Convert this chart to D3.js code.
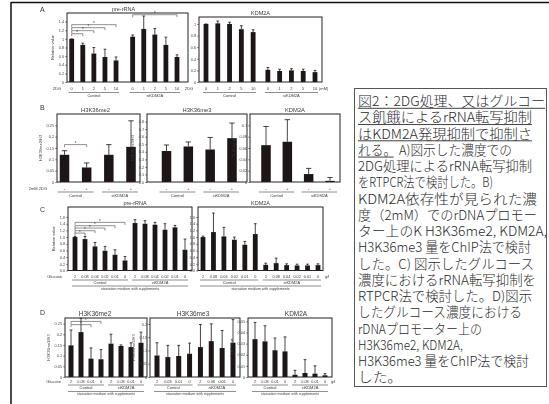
<!DOCTYPE html>
<html><head><meta charset="utf-8">
<script src="https://cdn.jsdelivr.net/npm/d3@7"></script>
<style>
body{margin:0;background:#fff;}
svg{display:block;}
</style></head><body>
<svg id="fig" width="549" height="404"></svg>
<script>
// ---- data ----
const groupNames = ["Control", "siKDM2A"];
const doseLabels = ["0", "1", "2", "5", "10"];              // 2DG, mM
const treatLabels = ["-", "+"];                              // 2 mM 2DG
const glucoseC = ["2", "0.08", "0.04", "0.02", "0.01", "0"]; // g/l
const glucoseD = ["2", "0.08", "0.01", "0"];                 // g/l

// A: 2DG dose series (Control x5, siKDM2A x5)
const aPreRNA    = [1.00, 0.86, 0.66, 0.58, 0.50, 1.05, 1.23, 1.10, 0.86, 0.58];
const aPreRNAErr = [0.00, 0.04, 0.14, 0.18, 0.08, 0.04, 0.30, 0.14, 0.18, 0.05];
const aKDM2A     = [1.00, 1.01, 1.00, 0.91, 0.86, 0.21, 0.19, 0.20, 0.19, 0.17];
const aKDM2AErr  = [0.00, 0.04, 0.03, 0.06, 0.04, 0.04, 0.03, 0.03, 0.03, 0.03];

// B: ChIP at 2 mM 2DG (Control -/+, siKDM2A -/+)
const bH3K36me2    = [0.120, 0.064, 0.120, 0.155];
const bH3K36me2Err = [0.018, 0.020, 0.045, 0.115];
const bH3K36me3    = [0.41, 0.47, 0.43, 0.58];
const bH3K36me3Err = [0.08, 0.06, 0.16, 0.20];
const bKDM2A       = [0.065, 0.071, 0.014, 0.002];
const bKDM2AErr    = [0.033, 0.039, 0.010, 0.006];

// C: glucose series (Control x6, siKDM2A x6)
const cPreRNA    = [1.00, 0.94, 0.72, 0.59, 0.47, 0.30, 1.42, 1.40, 1.37, 1.22, 1.29, 0.62];
const cPreRNAErr = [0.02, 0.08, 0.12, 0.13, 0.15, 0.12, 0.10, 0.09, 0.07, 0.18, 0.06, 0.32];
const cKDM2A     = [1.00, 1.15, 1.02, 0.92, 0.77, 1.09, 0.17, 0.22, 0.16, 0.15, 0.15, 0.16];
const cKDM2AErr  = [0.03, 0.57, 0.27, 0.08, 0.10, 0.31, 0.05, 0.15, 0.04, 0.04, 0.04, 0.04];

// D: ChIP in glucose series (Control x4, siKDM2A x4)
const dH3K36me2    = [0.148, 0.210, 0.086, 0.083, 0.156, 0.145, 0.140, 0.160];
const dH3K36me2Err = [0.072, 0.064, 0.050, 0.045, 0.044, 0.005, 0.020, 0.050];
const dH3K36me3    = [0.081, 0.075, 0.079, 0.0875, 0.1125, 0.135, 0.109, 0.129];
const dH3K36me3Err = [0.048, 0.044, 0.040, 0.040, 0.085, 0.065, 0.066, 0.087];
const dKDM2A       = [0.034, 0.032, 0.024, 0.023, 0.002, 0.0036, 0.003, 0.0015];
const dKDM2AErr    = [0.015, 0.014, 0.011, 0.013, 0.004, 0.012, 0.007, 0.0015];

// significance brackets: [from bar, to bar, height in data units]
const aPreBrackets = [[0, 1, 1.12], [0, 2, 1.19], [0, 3, 1.26], [0, 4, 1.33], [5, 9, 1.56]];
const bMe2Brackets = [[0, 1, 0.165]];
const cPreBrackets = [[0, 1, 1.12], [0, 2, 1.19], [0, 3, 1.27], [0, 4, 1.34], [0, 5, 1.44]];
const dMe2Brackets = [[0, 2, 0.245], [0, 3, 0.26]];

// caption lines: [text, line width, underlined prefix length in characters]
const captionLines = [
  ["図2：2DG処理、又はグルコー", 187, 99],
  ["ス飢餓によるrRNA転写抑制", 174, 99],
  ["はKDM2A発現抑制で抑制さ", 174, 99],
  ["れる。 A)図示した濃度での", 154, 3],
  ["2DG処理によるrRNA転写抑制", 174, 0],
  ["をRTPCR法で検討した。B)", 135, 0],
  ["KDM2A依存性が見られた濃", 179, 0],
  ["度（2mM）でのrDNAプロモー", 179, 0],
  ["ター上のK H3K36me2, KDM2A,", 189, 0],
  ["H3K36me3 量をChIP法で検討", 173, 0],
  ["した。C) 図示したグルコース", 176, 0],
  ["濃度におけるrRNA転写抑制を", 178, 0],
  ["RTPCR法で検討した。D)図示", 174, 0],
  ["したグルコース濃度における", 164, 0],
  ["rDNAプロモーター上の", 124, 0],
  ["H3K36me2, KDM2A,", 105, 0],
  ["H3K36me3 量をChIP法で検討", 171, 0],
  ["した。", 44, 0]
];

// ---- drawing ----
const FONT = "'Liberation Sans', Arial, sans-serif";
const BAR = "#1c1515";
const svg = d3.select("#fig");
svg.append("rect").attr("width", 549).attr("height", 404).attr("fill", "#fff");

const defs = svg.append("defs");
defs.append("filter").attr("id", "soft").attr("x", "-5%").attr("y", "-5%").attr("width", "110%").attr("height", "110%")
  .append("feGaussianBlur").attr("stdDeviation", 0.35);

// outer frame edges
svg.append("path").attr("d", "M11,2.5H549M11,2V404").attr("stroke", "#111").attr("stroke-width", 1.5).attr("fill", "none");

const charts = svg.append("g").attr("filter", "url(#soft)");

function small(g, x, y, s, size, anchor) {
  return g.append("text").attr("x", x).attr("y", y).text(s)
    .attr("font-family", FONT).attr("font-size", size || 4.5)
    .attr("fill", "#3a3a3a").attr("text-anchor", anchor || "middle");
}

function panel(cfg) {
  const g = charts.append("g");
  const n = cfg.values.length, half = n / 2, gap = cfg.gap || 0;
  const slot = i => i + (i >= half ? gap : 0);
  const xs = d3.scaleLinear().domain([0, n - 1 + gap]).range([cfg.x0 + cfg.padL, cfg.x1 - cfg.padR]);
  const ys = d3.scaleLinear().domain([0, cfg.yMax]).range([cfg.y1, cfg.y0]);
  const cx = i => xs(slot(i));

  // title
  small(g, (cfg.x0 + cfg.x1) / 2 + (cfg.titleDx || 0), cfg.y0 - 2, cfg.title, cfg.titleSize || 5.5);

  // y axis
  const ax = g.append("g").attr("transform", `translate(${cfg.x0},0)`)
    .call(d3.axisLeft(ys).tickValues(cfg.ticks).tickSize(1.8).tickFormat(cfg.fmt));
  ax.select(".domain").remove();
  ax.selectAll("line").attr("stroke", "#333").attr("stroke-width", 0.6);
  ax.selectAll("text").attr("font-size", 3.8).attr("font-family", FONT).attr("fill", "#444").attr("x", -3);
  small(g, 0, 0, cfg.yLabel, 4).attr("transform", `translate(${cfg.x0 - cfg.yLabelDx},${(cfg.y0 + cfg.y1) / 2}) rotate(-90)`);

  // bars
  g.selectAll(".bar").data(cfg.values).join("rect")
    .attr("x", (v, i) => cx(i) - cfg.bw / 2).attr("width", cfg.bw)
    .attr("y", v => ys(v)).attr("height", v => cfg.y1 - ys(v)).attr("fill", BAR);

  // error bars (upper whisker with cap)
  g.selectAll(".err").data(cfg.values).join("path")
    .attr("d", (v, i) => {
      const yt = ys(v + cfg.errs[i]), c = cx(i), w = Math.max(1.2, cfg.bw * 0.28);
      return `M${c},${ys(v)}V${yt}M${c - w},${yt}H${c + w}`;
    })
    .attr("stroke", BAR).attr("stroke-width", 0.8).attr("fill", "none");

  // frame
  g.append("rect").attr("x", cfg.x0).attr("y", cfg.y0)
    .attr("width", cfg.x1 - cfg.x0).attr("height", cfg.y1 - cfg.y0)
    .attr("fill", "none").attr("stroke", "#222").attr("stroke-width", 1);

  // brackets
  (cfg.brackets || []).forEach(([a, b, v]) => {
    const y = ys(v);
    g.append("path").attr("d", `M${cx(a)},${y + 2.5}V${y}H${cx(b)}V${y + 2.5}`)
      .attr("stroke", "#444").attr("stroke-width", 0.6).attr("fill", "none");
    small(g, (cx(a) + cx(b)) / 2, y + 0.6, "*", 4.5);
  });

  // category labels
  const labs = cfg.labels.concat(cfg.labels);
  labs.forEach((s, i) => small(g, cx(i), cfg.y1 + cfg.labDy, s, cfg.labSize || 4));
  if (cfg.prefix) small(g, cfg.x0 - cfg.prefixDx, cfg.y1 + cfg.labDy, cfg.prefix, 4, "end");
  if (cfg.unit) small(g, cx(n - 1) + cfg.unitDx, cfg.y1 + cfg.labDy, cfg.unit, 4, "start");

  // group underlines and names
  [[0, half - 1], [half, n - 1]].forEach(([a, b], k) => {
    const ext = cfg.lineExt;
    g.append("path").attr("d", `M${cx(a) - ext},${cfg.y1 + cfg.lineDy}H${cx(b) + ext}`)
      .attr("stroke", "#444").attr("stroke-width", 0.6);
    small(g, (cx(a) + cx(b)) / 2, cfg.y1 + cfg.grpDy, groupNames[k], 4);
  });
  if (cfg.longDy) {
    g.append("path").attr("d", `M${cx(0) - cfg.lineExt},${cfg.y1 + cfg.longDy}H${cx(n - 1) + cfg.lineExt}`)
      .attr("stroke", "#444").attr("stroke-width", 0.6);
    small(g, (cx(0) + cx(n - 1)) / 2, cfg.y1 + cfg.longDy + 3.6, "starvation medium with supplements", 3.6);
  }
}

const f1 = d3.format(".1f"), fg = d3.format("");

// row A
const rowA = {y0: 13, y1: 82, labDy: 8, lineDy: 10.5, grpDy: 15, bw: 4.8, lineExt: 3, prefix: "2DG", prefixDx: 6};
panel({...rowA, x0: 67, x1: 188, padL: 4.7, padR: 11, gap: 0.5, yMax: 1.6, ticks: d3.range(0, 1.41, 0.2), fmt: fg,
  title: "pre-rRNA", titleDx: -4, yLabel: "Relative value", yLabelDx: 13, values: aPreRNA, errs: aPreRNAErr, labels: doseLabels,
  brackets: aPreBrackets});
panel({...rowA, y0: 17, x0: 199, x1: 322, padL: 7, padR: 7, gap: 0.25, yMax: 1.12, ticks: d3.range(0, 1.01, 0.2), fmt: fg,
  title: "KDM2A", yLabel: "", yLabelDx: 13, values: aKDM2A, errs: aKDM2AErr, labels: doseLabels, unit: "(mM)", unitDx: 4});

// row B
const rowB = {y0: 114, y1: 182, labDy: 7.5, lineDy: 10, grpDy: 14.5, bw: 9.5, lineExt: 7, prefix: "2mM 2DG", prefixDx: 10, titleSize: 5.8};
panel({...rowB, x0: 57, x1: 140, padL: 7.5, padR: 9, yMax: 0.3, ticks: d3.range(0, 0.251, 0.05), fmt: d3.format(".2~f"),
  title: "H3K36me2", titleDx: -3, yLabel: "H3K36me2/H3", yLabelDx: 15, values: bH3K36me2, errs: bH3K36me2Err, labels: treatLabels,
  brackets: bMe2Brackets});
panel({...rowB, prefix: null, x0: 147, x1: 247, padL: 19.5, padR: 15, yMax: 0.9, ticks: d3.range(0, 0.81, 0.1), fmt: f1,
  title: "H3K36me3", yLabel: "H3K36me3/H3", yLabelDx: 13, values: bH3K36me3, errs: bH3K36me3Err, labels: treatLabels});
panel({...rowB, prefix: null, x0: 250, x1: 340, padL: 16, padR: 10, yMax: 0.12, ticks: d3.range(0, 0.101, 0.02), fmt: d3.format(".2~f"),
  title: "KDM2A", yLabel: "% of input", yLabelDx: 15, values: bKDM2A, errs: bKDM2AErr, labels: treatLabels});

// row C
const rowC = {y0: 207, y1: 270.5, labDy: 7, lineDy: 9.5, grpDy: 13.5, longDy: 15.5, bw: 4.8, lineExt: 3, prefix: "Glucose", prefixDx: 6, labSize: 3.8};
panel({...rowC, x0: 68, x1: 192, padL: 7, padR: 7, yMax: 1.9, ticks: d3.range(0, 1.61, 0.2), fmt: f1,
  title: "pre-rRNA", titleDx: 5, yLabel: "Relative value", yLabelDx: 13, values: cPreRNA, errs: cPreRNAErr, labels: glucoseC,
  brackets: cPreBrackets});
panel({...rowC, prefix: null, x0: 198, x1: 323, padL: 5, padR: 5, yMax: 1.9, ticks: d3.range(0, 1.61, 0.2), fmt: f1,
  title: "KDM2A", yLabel: "", yLabelDx: 13, values: cKDM2A, errs: cKDM2AErr, labels: glucoseC, unit: "g/l", unitDx: 7});

// row D
const rowD = {y0: 318, y1: 377, labDy: 5.5, lineDy: 8, grpDy: 12, longDy: 14.5, bw: 5, lineExt: 3, prefix: "Glucose", prefixDx: 4, titleSize: 6.5, labSize: 3.8};
panel({...rowD, x0: 65, x1: 147, padL: 6, padR: 6, yMax: 0.276, ticks: d3.range(0, 0.251, 0.05), fmt: d3.format(".2~f"),
  title: "H3K36me2", titleDx: -11, yLabel: "H3K36me2/H3", yLabelDx: 15, values: dH3K36me2, errs: dH3K36me2Err, labels: glucoseD,
  brackets: dMe2Brackets});
panel({...rowD, prefix: null, x0: 150, x1: 240, padL: 7, padR: 7, yMax: 0.222, ticks: d3.range(0, 0.201, 0.05), fmt: d3.format(".2~f"),
  title: "H3K36me3", titleDx: -2, yLabel: "H3K36me3/H3", yLabelDx: 15, values: dH3K36me3, errs: dH3K36me3Err, labels: glucoseD});
panel({...rowD, prefix: null, x0: 248, x1: 332, padL: 7, padR: 7, yMax: 0.053, ticks: d3.range(0, 0.0501, 0.01), fmt: d3.format(".2~f"),
  title: "KDM2A", titleDx: 6, yLabel: "% of input", yLabelDx: 15, values: dKDM2A, errs: dKDM2AErr, labels: glucoseD, unit: "g/l", unitDx: 6});

// panel letters
[["A", 12], ["B", 110], ["C", 212], ["D", 315]].forEach(([s, y]) =>
  charts.append("text").attr("x", 40).attr("y", y).text(s).attr("font-family", FONT)
    .attr("font-size", 7).attr("fill", "#333"));

// caption box
svg.append("rect").attr("x", 354.5).attr("y", 88.5).attr("width", 192).attr("height", 298)
  .attr("fill", "#fff").attr("stroke", "#555").attr("stroke-width", 1);
const cap = svg.append("g").attr("font-family", "'Noto Sans CJK JP', sans-serif")
  .attr("font-size", 13.2).attr("font-weight", 300).attr("fill", "#2a2a2a");
captionLines.forEach(([s, w, u], i) => {
  const base = 106 + i * 16.25;
  cap.append("text").attr("x", 358).attr("y", base).text(s)
    .attr("textLength", w).attr("lengthAdjust", "spacingAndGlyphs");
  if (u > 0) {
    const ul = u >= s.length ? w : w * (u / s.length) * 1.08;
    cap.append("path").attr("d", `M358,${base + 2.3}H${358 + ul}`)
      .attr("stroke", "#2a2a2a").attr("stroke-width", 0.9);
  }
});
</script></body></html>
